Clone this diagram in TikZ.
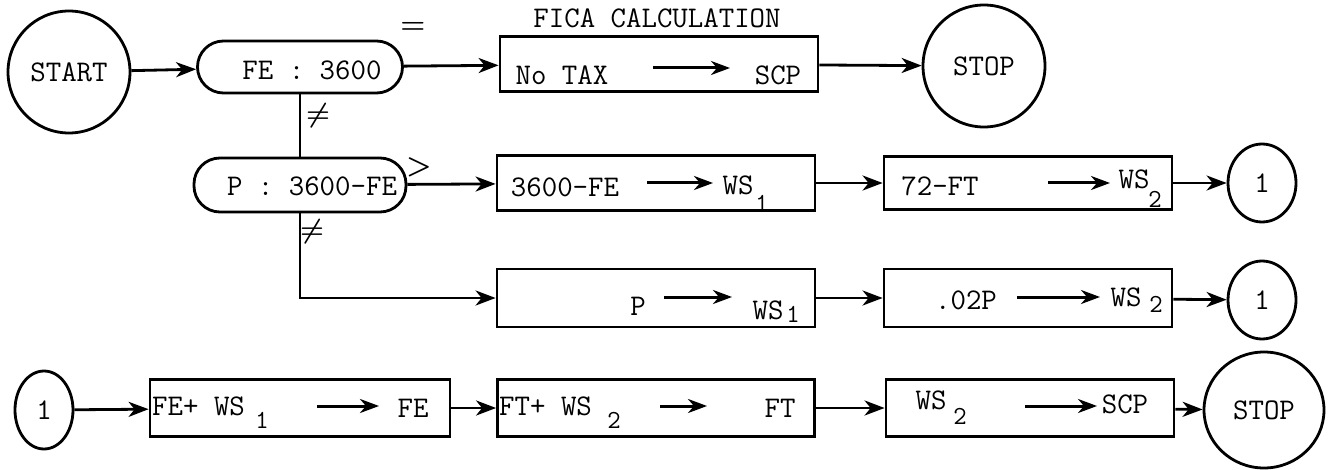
\documentclass[tikz,border=0pt]{standalone}
\usepackage{graphicx}
\usepackage{amsmath}
\usetikzlibrary{arrows.meta,shapes.geometric}
\begin{document}
\begin{tikzpicture}[x=1pt,y=-1pt,
  every node/.style={font=\fontsize{30}{34}\selectfont\ttfamily, inner sep=0pt},
  ln/.style={line width=2.8pt},
  arr/.style={ln,-{Stealth[length=20pt,width=15pt,inset=6pt]}},
  iarr/.style={line width=3pt,-{Stealth[length=19pt,width=14pt,inset=6pt]}},
  circ/.style={draw,ln,circle,minimum size=122pt},
  ell/.style={draw,ln,ellipse,minimum width=68pt,minimum height=78pt},
  stad/.style={draw,ln,rectangle,rounded corners=26pt},
  box/.style={draw,ln,rectangle},
  sub/.style={font=\fontsize{26}{28}\selectfont\ttfamily}
]
\useasboundingbox (0,0) rectangle (1340,470);

% ---- row 1
\node[circ] (start) at (69,72) {START};
\node[stad,minimum width=205pt,minimum height=52pt] (fe) at (300,67) {};
\node (fet) at (312,70) {FE : 3600};
\node (eq) at (413,28) {\scalebox{1.15}{$\boldsymbol{=}$}};
\node (fica) at (657,18) {FICA CALCULATION};
\node[box,minimum width=318pt,minimum height=55pt] (notax) at (659,64) {};
\node (notaxt) at (562,75) {No TAX};
\node (scp1) at (778,75) {SCP};
\coordinate (a1s) at (653,68); \coordinate (a1e) at (730,68);
\draw[iarr] (a1s) -- (a1e);
\node[circ] (stop1) at (984,66) {STOP};
\draw[arr] (start) -- (fe);
\draw[arr] (fe) -- (notax);
\draw[arr] (notax) -- (stop1);

% ---- row 2
\node[stad,minimum width=212pt,minimum height=54pt] (p) at (300,185) {};
\node (pt) at (312,186) {P : 3600-FE};
\node (gt) at (419,167) {\scalebox{1.15}{$\boldsymbol{>}$}};
\node (ne1) at (318,116) {\scalebox{1.1}{$\boldsymbol{\neq}$}};
\node (ne2) at (312,232) {\scalebox{1.1}{$\boldsymbol{\neq}$}};
\draw[ln] (fe.south) -- (p.north);

\node[box,minimum width=318pt,minimum height=55pt] (b1) at (656,183) {};
\node (b1a) at (565,187) {3600-FE};
\coordinate (a2s) at (647,183); \coordinate (a2e) at (713,183);
\draw[iarr] (a2s) -- (a2e);
\node (b1w) at (738,185) {WS};
\node[sub] (b1s) at (762,203) {1};

\node[box,minimum width=288pt,minimum height=53pt] (b2) at (1028,183) {};
\node (b2a) at (940,186) {72-FT};
\coordinate (a3s) at (1048,183); \coordinate (a3e) at (1110,183);
\draw[iarr] (a3s) -- (a3e);
\node (b2w) at (1134,179) {WS};
\node[sub] (b2s) at (1155,199) {2};

\node[ell] (c1a) at (1262,183) {1};
\draw[arr] (p) -- (b1);
\draw[arr] (b1) -- (b2);
\draw[arr] (b2) -- (c1a);

% ---- row 3
\coordinate (corner) at (300,298);
\node[box,minimum width=318pt,minimum height=58pt] (b3) at (656,298) {};
\node (b3a) at (638,306) {P};
\coordinate (a4s) at (664,297); \coordinate (a4e) at (732,297);
\draw[iarr] (a4s) -- (a4e);
\node (b3w) at (768,310) {WS};
\node[sub] (b3s) at (793,314) {1};

\node[box,minimum width=288pt,minimum height=58pt] (b4) at (1028,298) {};
\node (b4a) at (966,300) {.02P};
\coordinate (a5s) at (1017,297); \coordinate (a5e) at (1100,297);
\draw[iarr] (a5s) -- (a5e);
\node (b4w) at (1126,297) {WS};
\node[sub] (b4s) at (1156,304) {2};

\node[ell] (c1b) at (1262,300) {1};
\draw[arr] (p.south) -- (corner) -- (b3.west);
\draw[arr] (b3) -- (b4);
\draw[arr] (b4) -- (c1b);

% ---- row 4
\node[ell,minimum width=58pt] (c1) at (44,410) {1};

\node[box,minimum width=300pt,minimum height=57pt] (b5) at (300,408) {};
\node[anchor=west] (b5a) at (152,406) {FE+ WS};
\node[sub] (b5s) at (262,420) {1};
\coordinate (a6s) at (317,406); \coordinate (a6e) at (379,406);
\draw[iarr] (a6s) -- (a6e);
\node (b5b) at (413,408) {FE};

\node[box,minimum width=317pt,minimum height=57pt] (b6) at (656,408) {};
\node[anchor=west] (b6a) at (499,406) {FT+ WS};
\node[sub] (b6s) at (614,420) {2};
\coordinate (a7s) at (660,406); \coordinate (a7e) at (707,406);
\draw[iarr] (a7s) -- (a7e);
\node (b6b) at (780,408) {FT};

\node[box,minimum width=288pt,minimum height=57pt] (b7) at (1030,408) {};
\node (b7w) at (931,400) {WS};
\node[sub] (b7s) at (960,416) {2};
\coordinate (a8s) at (1025,406); \coordinate (a8e) at (1097,406);
\draw[iarr] (a8s) -- (a8e);
\node (b7b) at (1125,404) {SCP};

\node[draw,ln,ellipse,minimum width=120pt,minimum height=116pt] (stop2) at (1264,410) {STOP};
\draw[arr] (c1) -- (b5);
\draw[arr] (b5) -- (b6);
\draw[arr] (b6) -- (b7);
\draw[arr] (b7) -- (stop2);
\end{tikzpicture}
\end{document}
